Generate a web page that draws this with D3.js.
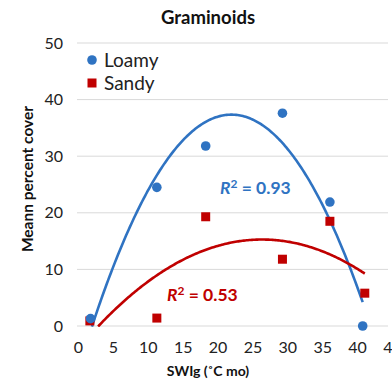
<!DOCTYPE html>
<html><head><meta charset="utf-8">
<script src="https://cdn.jsdelivr.net/npm/d3@7"></script>
<style>body{margin:0;background:#fff;} svg{display:block;font-family:Lato,"Open Sans",sans-serif;}</style>
</head><body><div id="chart"></div>
<script>
const loamyX = [1.8, 11.3, 18.3, 29.3, 36.1, 40.8];
const loamyY = [1.3, 24.5, 31.8, 37.6, 21.9, 0];
const sandyX = [1.7, 11.3, 18.3, 29.3, 36.1, 41.1];
const sandyY = [0.9, 1.4, 19.3, 11.8, 18.5, 5.8];
const xTicks = [0, 5, 10, 15, 20, 25, 30, 35, 40, 45];
const yTicks = [0, 10, 20, 30, 40, 50];
const r2Labels = ["0.93", "0.53"];

const W = 392, H = 380;
const svg = d3.select("#chart").append("svg").attr("width", W).attr("height", H);
const x = d3.scaleLinear().domain([0, 45]).range([78, 392]);
const y = d3.scaleLinear().domain([0, 50]).range([326, 43]);

// gridlines
svg.append("g").selectAll("line").data(yTicks).join("line")
  .attr("x1", 77).attr("x2", 388).attr("y1", d => y(d)).attr("y2", d => y(d))
  .attr("stroke", "#d9d9d9").attr("stroke-width", 1);

const yAxis = svg.append("g").attr("transform", "translate(63,0)")
  .call(d3.axisLeft(y).tickValues(yTicks).tickSize(0).tickPadding(0));
yAxis.select(".domain").remove();
yAxis.selectAll("text").attr("font-size", 16).attr("fill", "#222").attr("font-family", "Lato");

const xAxis = svg.append("g").attr("transform", "translate(0,342)")
  .call(d3.axisBottom(x).tickValues(xTicks).tickSize(0).tickPadding(0));
xAxis.select(".domain").remove();
xAxis.selectAll("text").attr("font-size", 16).attr("fill", "#222").attr("font-family", "Lato");

// quadratic least squares fit
function fit2(xs, ys) {
  const n = xs.length;
  let S = [0,0,0,0,0], T = [0,0,0];
  for (let i = 0; i < n; i++) {
    for (let k = 0; k < 5; k++) S[k] += Math.pow(xs[i], k);
    for (let k = 0; k < 3; k++) T[k] += ys[i] * Math.pow(xs[i], k);
  }
  const A = [[S[0],S[1],S[2],T[0]],[S[1],S[2],S[3],T[1]],[S[2],S[3],S[4],T[2]]];
  for (let c = 0; c < 3; c++) {
    for (let r = c + 1; r < 3; r++) {
      const f = A[r][c] / A[c][c];
      for (let k = c; k < 4; k++) A[r][k] -= f * A[c][k];
    }
  }
  const b = [0,0,0];
  for (let r = 2; r >= 0; r--) {
    let s = A[r][3];
    for (let k = r + 1; k < 3; k++) s -= A[r][k] * b[k];
    b[r] = s / A[r][r];
  }
  return v => b[0] + b[1] * v + b[2] * v * v;
}

const clip = svg.append("clipPath").attr("id", "plotclip").append("rect")
  .attr("x", 70).attr("y", 40).attr("width", 330).attr("height", y(0) - 40 + 1);

function trend(xs, ys, color) {
  const f = fit2(xs, ys);
  const x0 = d3.min(xs), x1 = d3.max(xs);
  const pts = d3.range(0, 201).map(i => { const v = x0 + (x1 - x0) * i / 200; return [v, f(v)]; });
  svg.append("path").datum(pts).attr("clip-path", "url(#plotclip)")
    .attr("d", d3.line().x(d => x(d[0])).y(d => y(Math.max(d[1], -0.15))).defined(d => d[1] >= -0.2))
    .attr("fill", "none").attr("stroke", color).attr("stroke-width", 2.6);
}
const blue = "#2f73c2", red = "#c00000";
trend(loamyX, loamyY, blue);
trend(sandyX, sandyY, red);

svg.append("g").selectAll("rect").data(sandyX).join("rect")
  .attr("x", (d, i) => x(d) - 4.5).attr("y", (d, i) => y(sandyY[i]) - 4.5)
  .attr("width", 9).attr("height", 9).attr("fill", red);
svg.append("g").selectAll("circle").data(loamyX).join("circle")
  .attr("cx", d => x(d)).attr("cy", (d, i) => y(loamyY[i])).attr("r", 4.8).attr("fill", blue);

// legend
svg.append("circle").attr("cx", 92).attr("cy", 60).attr("r", 4.8).attr("fill", blue);
svg.append("rect").attr("x", 87.5).attr("y", 78.5).attr("width", 9).attr("height", 9).attr("fill", red);
svg.append("text").attr("x", 104).attr("y", 66.5).attr("font-size", 19).attr("fill", "#222").text("Loamy");
svg.append("text").attr("x", 104).attr("y", 89.5).attr("font-size", 19).attr("fill", "#222").text("Sandy");

// R² labels
function r2(xp, yp, color, val) {
  const t = svg.append("text").attr("x", xp).attr("y", yp).attr("font-size", 17.5)
    .attr("font-weight", "bold").attr("fill", color);
  t.append("tspan").attr("font-style", "italic").text("R");
  t.append("tspan").attr("dy", -6).attr("font-size", 12).text("2");
  t.append("tspan").attr("dy", 6).text(" = " + val);
}
r2(220, 194, blue, r2Labels[0]);
r2(167, 301, red, r2Labels[1]);

// titles
svg.append("text").attr("x", 208).attr("y", 24).attr("text-anchor", "middle")
  .attr("font-size", 18.5).attr("font-weight", "bold").attr("fill", "#111").text("Graminoids");
svg.append("text").attr("x", 208).attr("y", 376).attr("text-anchor", "middle")
  .attr("font-size", 14).attr("font-weight", "bold").attr("fill", "#111").text("SWIg (˚C mo)");
svg.append("text").attr("transform", "translate(33,179) rotate(-90)").attr("text-anchor", "middle")
  .attr("font-size", 15.5).attr("font-weight", "bold").attr("fill", "#111").text("Meann percent cover");
</script></body></html>
